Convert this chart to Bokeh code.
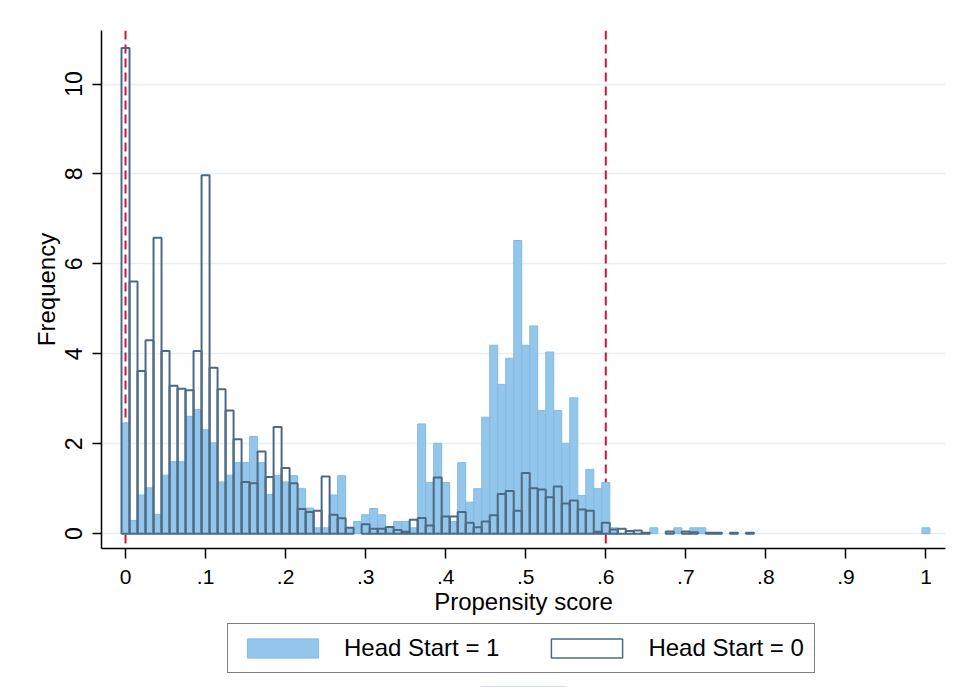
from bokeh.plotting import figure
from bokeh.layouts import column
from bokeh.models import Range1d, FixedTicker, Span, Legend, LegendItem, ColumnDataSource
from bokeh.embed import file_html
from bokeh.resources import INLINE

# ---- data (frequency per bin of width 0.01, bin centres 0.00 .. 1.00) ----
bin_width = 0.01
head_start_1 = [
    2.46, 0.29, 0.86, 1.02, 0.43, 1.30, 1.60, 1.60, 2.61, 2.76,
    2.31, 2.02, 1.15, 1.30, 1.58, 1.58, 2.16, 1.58, 0.87, 1.29,
    1.15, 1.29, 1.00, 0.57, 0.13, 0.13, 0.86, 1.29, 0.14, 0.27,
    0.42, 0.56, 0.42, 0.15, 0.27, 0.27, 0.13, 2.44, 1.14, 2.01,
    1.14, 0.27, 1.58, 0.70, 1.00, 2.59, 4.19, 3.32, 3.90, 6.52,
    4.19, 4.62, 2.74, 4.04, 2.74, 2.01, 3.02, 0.85, 1.43, 1.00,
    1.14, 0.13, 0.00, 0.00, 0.00, 0.00, 0.13, 0.00, 0.00, 0.13,
    0.00, 0.13, 0.13, 0.00, 0.00, 0.00, 0.00, 0.00, 0.00, 0.00,
    0.00, 0.00, 0.00, 0.00, 0.00, 0.00, 0.00, 0.00, 0.00, 0.00,
    0.00, 0.00, 0.00, 0.00, 0.00, 0.00, 0.00, 0.00, 0.00, 0.00,
    0.13,
]
head_start_0 = [
    10.80, 5.61, 3.62, 4.30, 6.58, 4.06, 3.29, 3.22, 3.19, 4.06,
    7.97, 3.69, 3.21, 2.74, 2.10, 1.15, 1.12, 1.83, 1.26, 2.37,
    1.46, 1.12, 0.55, 0.48, 0.51, 1.27, 0.42, 0.34, 0.13, 0.00,
    0.21, 0.11, 0.11, 0.15, 0.08, 0.04, 0.31, 0.35, 0.18, 1.25,
    0.38, 0.38, 0.48, 0.24, 0.14, 0.27, 0.41, 0.88, 0.95, 0.51,
    1.35, 1.01, 0.98, 0.81, 1.05, 0.67, 0.74, 0.54, 0.51, 0.04,
    0.24, 0.09, 0.11, 0.06, 0.07, 0.02, 0.00, 0.00, 0.05, 0.00,
    0.05, 0.03, 0.00, 0.02, 0.02, 0.00, 0.02, 0.00, 0.02, 0.00,
    0.00, 0.00, 0.00, 0.00, 0.00, 0.00, 0.00, 0.00, 0.00, 0.00,
    0.00, 0.00, 0.00, 0.00, 0.00, 0.00, 0.00, 0.00, 0.00, 0.00,
    0.00,
]
x_ticks = [0.0, 0.1, 0.2, 0.3, 0.4, 0.5, 0.6, 0.7, 0.8, 0.9, 1.0]
x_tick_labels = ["0", ".1", ".2", ".3", ".4", ".5", ".6", ".7", ".8", ".9", "1"]
y_ticks = [0, 2, 4, 6, 8, 10]
cutoffs = [0.0, 0.6]
series_labels = ["Head Start = 1", "Head Start = 0"]

bins = [round(i * bin_width, 2) for i in range(len(head_start_1))]


def source(vals):
    xs = [b for b, v in zip(bins, vals) if v > 0]
    ts = [v for v in vals if v > 0]
    return ColumnDataSource(dict(x=xs, top=ts))


FONT = "Liberation Sans"
BLUE_FILL, BLUE_LINE = "#93c6ea", "#80bbe5"
OUTLINE = "#4b6a85"

p = figure(frame_width=844, frame_height=518,
           x_range=Range1d(-0.030, 1.0244), y_range=Range1d(-0.33, 11.19),
           output_backend="svg", toolbar_location=None,
           min_border_left=101, min_border_right=19,
           min_border_top=30, min_border_bottom=75)
p.outline_line_color = None
p.background_fill_color = "white"
p.border_fill_color = "white"

# cutoff lines (behind bars)
for c in cutoffs:
    p.add_layout(Span(location=c, dimension="height", line_color="#d0143c",
                      line_width=2, line_dash="9 5", level="underlay"))

r1 = p.vbar(x="x", top="top", bottom=0, width=bin_width, source=source(head_start_1),
            fill_color=BLUE_FILL, line_color=BLUE_LINE, line_width=1)
r0 = p.vbar(x="x", top="top", bottom=0, width=bin_width, source=source(head_start_0),
            fill_color=None, line_color=OUTLINE, line_width=2)

# grid
p.xgrid.visible = False
p.ygrid.ticker = FixedTicker(ticks=y_ticks)
p.ygrid.grid_line_color = "#e6eff2"
p.ygrid.grid_line_width = 1.5

# x axis
xa = p.xaxis[0]
xa.ticker = FixedTicker(ticks=x_ticks)
xa.major_label_overrides = dict(zip(x_ticks, x_tick_labels))
xa.axis_label = "Propensity score"
xa.minor_tick_line_color = None
xa.major_tick_out = 10
xa.major_tick_in = 0
xa.axis_line_width = 1.5
xa.major_tick_line_width = 1.5
xa.major_label_text_font = FONT
xa.major_label_text_font_size = "21px"
xa.major_label_text_color = "black"
xa.axis_label_text_font = FONT
xa.axis_label_text_font_size = "24px"
xa.axis_label_text_font_style = "normal"
xa.axis_label_text_color = "black"
xa.major_label_standoff = 11
xa.axis_label_standoff = 1

# y axis
ya = p.yaxis[0]
ya.ticker = FixedTicker(ticks=y_ticks)
ya.axis_label = "Frequency"
ya.minor_tick_line_color = None
ya.major_tick_out = 9
ya.major_tick_in = 0
ya.axis_line_width = 1.5
ya.major_tick_line_width = 1.5
ya.major_label_orientation = "vertical"
ya.major_label_text_font = FONT
ya.major_label_text_font_size = "23px"
ya.major_label_text_color = "black"
ya.axis_label_text_font = FONT
ya.axis_label_text_font_size = "24px"
ya.axis_label_text_font_style = "normal"
ya.axis_label_text_color = "black"
ya.major_label_standoff = 10
ya.axis_label_standoff = 3

# ---- legend strip below the chart (key glyphs sit outside its visible canvas) ----
leg = figure(width=964, height=64, x_range=Range1d(0, 1), y_range=Range1d(0, 1),
             x_axis_type=None, y_axis_type=None,
             output_backend="svg", toolbar_location=None,
             min_border_left=0, min_border_right=0, min_border_top=0, min_border_bottom=0)
leg.outline_line_color = None
leg.grid.visible = False
key_src = dict(x=[0.5], top=[-20.0])
k1 = leg.vbar(x="x", top="top", bottom=-21.0, width=0.1, source=ColumnDataSource(key_src),
              fill_color=BLUE_FILL, line_color=BLUE_LINE, line_width=1)
k0 = leg.vbar(x="x", top="top", bottom=-21.0, width=0.1, source=ColumnDataSource(key_src),
              fill_color=None, line_color=OUTLINE, line_width=1.5)

legend = Legend(items=[LegendItem(label=series_labels[0], renderers=[k1]),
                       LegendItem(label=series_labels[1], renderers=[k0])],
                orientation="horizontal", location=(126, 14),
                glyph_width=89, glyph_height=24, label_standoff=17, spacing=43,
                padding=10, margin=0,
                border_line_color="black", border_line_width=1.5,
                background_fill_color="white", background_fill_alpha=1,
                label_text_font=FONT, label_text_font_size="24px",
                label_text_color="black")
leg.add_layout(legend, "center")

open("out.html", "w").write(file_html(column(p, leg, spacing=0), INLINE))
